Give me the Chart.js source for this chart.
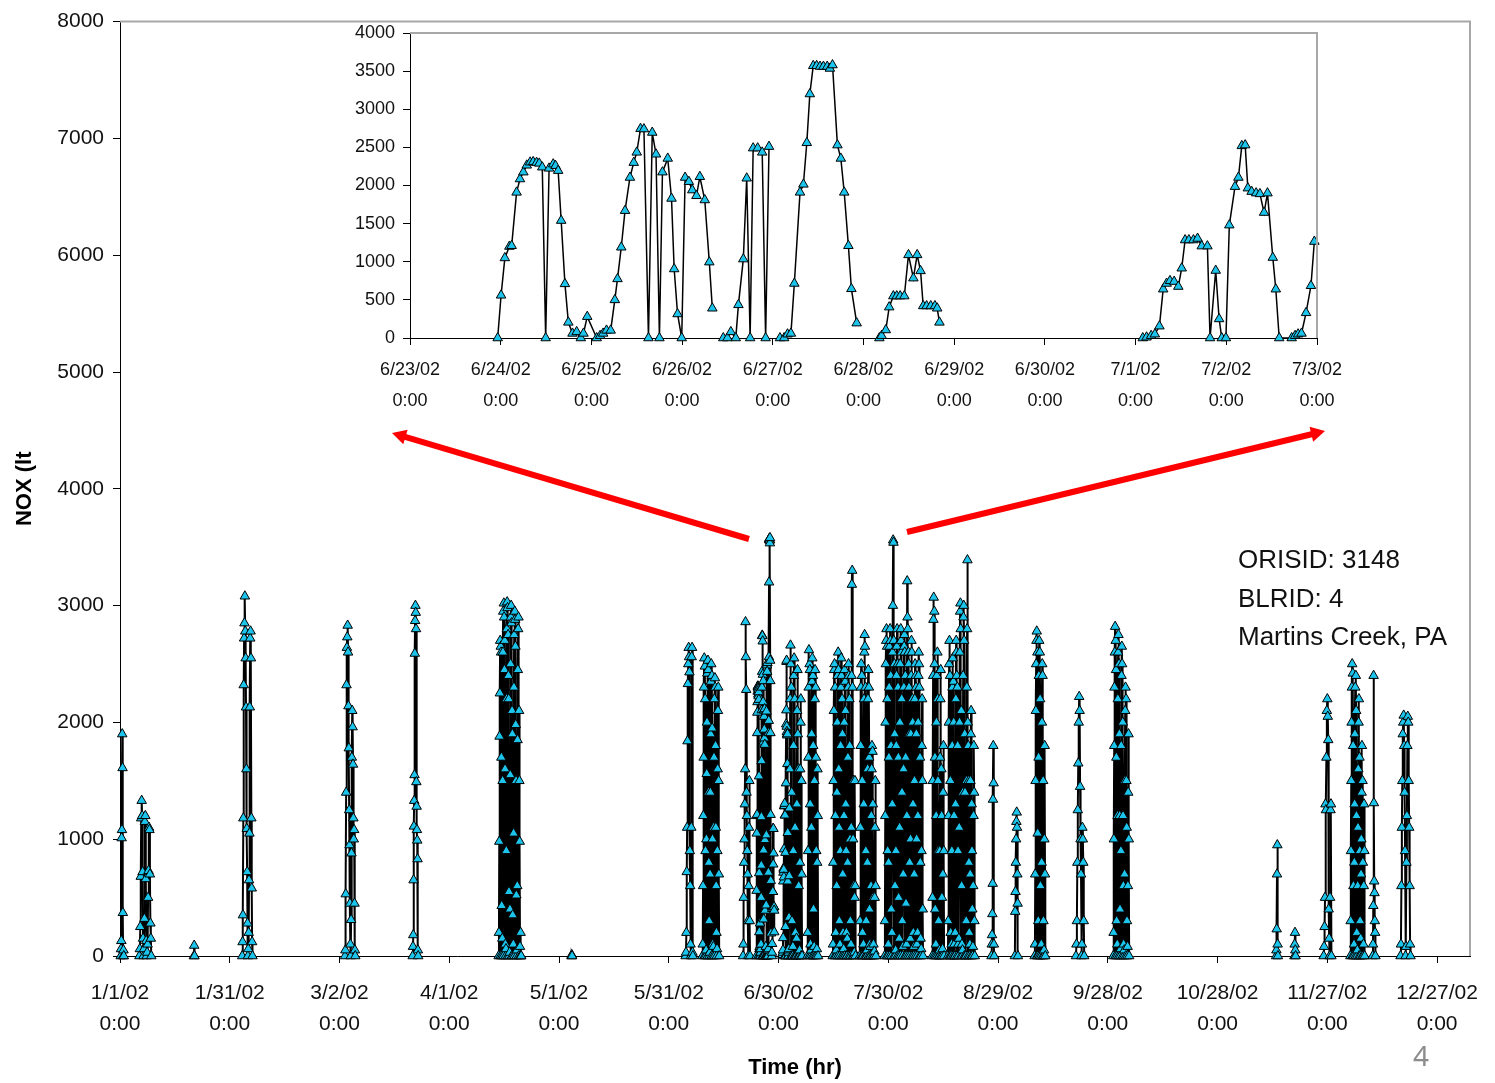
<!DOCTYPE html>
<html>
<head>
<meta charset="utf-8">
<script src="https://cdn.jsdelivr.net/npm/chart.js@4.4.1/dist/chart.umd.min.js"></script>
<style>
  html, body { margin: 0; padding: 0; background: #fff; }
  #wrap { position: relative; width: 1495px; height: 1083px; overflow: hidden; }
  #mainChart { position: absolute; left: 0; top: 0; }
  #insetChart { position: absolute; left: 340px; top: 10px; }
</style>
</head>
<body>
<div id="wrap">
  <canvas id="mainChart" width="1495" height="1083"></canvas>
  <canvas id="insetChart" width="1040" height="410"></canvas>
</div>
<script>
// x axis of the main chart: days since 1/1/02, one tick every 30 days
const mainTickDays = [0, 30, 60, 90, 120, 150, 180, 210, 240, 270, 300, 330, 360];
const mainTickDates = ["1/1/02", "1/31/02", "3/2/02", "4/1/02", "5/1/02", "5/31/02", "6/30/02",
  "7/30/02", "8/29/02", "9/28/02", "10/28/02", "11/27/02", "12/27/02"];

// inset: hours since 6/23/02 0:00, one tick per day
const insetTickDates = ["6/23/02", "6/24/02", "6/25/02", "6/26/02", "6/27/02", "6/28/02",
  "6/29/02", "6/30/02", "7/1/02", "7/2/02", "7/3/02"];
const insetStartDay = 173; // 6/23/02 on the main axis

const noteLines = ["ORISID: 3148", "BLRID: 4", "Martins Creek, PA"];

// hourly readings 6/23 - 7/3 (null = no reading)
const insetHours = [
  23.2, 24.1, 25.1, 26.3, 26.9, 28.2, 29.1, 30.0, 30.9, 31.8, 32.6, 33.5, 34.2, 35.0, 35.9, 36.8, 37.9, 38.5, 39.2, 40.0,
  41.0, 41.9, 43.0, 44.1, 45.2, 45.9, 46.9,
  49.4, 50.3, 51.1, 52.0, 53.1, 54.2, 54.9, 55.9, 56.9, 58.2, 59.2, 60.0, 61.0, 61.9, 63.1, 64.1, 65.1, 66.0, 66.8, 68.2,
  69.2, 69.9, 70.8, 71.9, 72.8, 73.8, 74.7, 75.8, 76.7, 78.0, 79.2, 80.0,
  81.5,
  82.9, 84.0, 84.9, 86.2, 86.9, 88.2, 89.1, 90.0, 90.8, 92.0, 93.2, 94.1, 95.0,
  96.5,
  97.9, 99.0, 99.9, 100.8, 101.7, 103.2, 104.1, 105.0, 105.8, 106.7, 107.6, 108.5, 109.4, 110.4, 111.1, 111.8, 113.1,
  114.0, 114.9, 116.0, 116.8, 118.2,
  121.0,
  124.2, 124.8, 125.9, 126.8, 127.9, 128.8, 129.7, 130.8, 131.9, 133.2, 134.2, 135.1, 135.8, 136.7, 137.8, 138.9, 139.5, 140.1,
  167.0,
  193.9, 194.9, 196.1, 197.1, 198.3, 199.3, 200.2, 201.1, 202.2, 203.3, 204.2, 205.1, 206.1, 207.3, 208.4, 209.5, 211.0,
  211.7, 213.2, 214.1, 214.8, 215.9, 216.8, 218.3, 219.2, 220.1, 221.0, 221.7, 222.7, 223.9, 224.9, 226.0, 226.9, 228.3,
  229.1, 230.0, 233.3, 234.2, 235.0, 235.9, 237.1, 238.4, 239.3
];
const insetNox = [
  0, 560, 1050, 1200, 1210, 1910, 2085, 2175, 2265, 2305, 2310, 2300, 2290, 2240, 0, 2225, 2280, 2260, 2195, 1540,
  710, 205, 60, 80, 0, 60, 280,
  0, 30, 60, 100, 100, 500, 775, 1190, 1670, 2105, 2300, 2435, 2745, 2740, 0, 2695, 2410, 0, 2175, 2355,
  1830, 905, 315, 0, 2105, 2050, 1940, 1865, 2115, 1810, 995, 390,
  null,
  0, 0, 80, 0, 435, 1035, 2095, 0, 2490, 2490, 2435, 0, 2510,
  null,
  0, 0, 50, 60, 715, 1910, 2015, 2560, 3200, 3570, 3570, 3560, 3560, 3560, 3535, 3580, 2530,
  2355, 1910, 1210, 645, 195,
  null,
  0, 30, 105, 405, 550, 550, 550, 550, 1090, 785, 1090, 880, 420, 420, 420, 420, 390, 205,
  null,
  0, 10, 30, 50, 155, 640, 715, 750, 740, 675, 915, 1285, 1285, 1285, 1305, 1205, 1205,
  0, 885, 250, 0, 0, 1480, 1985, 2105, 2520, 2530, 1965, 1920, 1900, 1890, 1645, 1900, 1055,
  640, 0, 0, 30, 50, 60, 330, 685, 1265
];

// rest of the year: operating runs (start day, sampling step in hours, NOx readings)
const runStartDay = [0.2, 5.3, 20.2, 33.4, 61.5, 80.0, 103.5, 123.4, 154.6, 159.2, 170.3, 183.1, 187.9, 194.8, 202.2,
  209.0, 222.0, 226.3, 238.2, 244.6, 250.0, 261.3, 271.5, 316.0, 321.0, 329.0, 336.3, 342.4, 350.0];
const runStepHours = [2, 3, 2, 2.5, 2.5, 2, 2, 2, 2.5, 2, 2.3, 2, 2, 2, 2,
  2, 2, 2, 2, 2, 2, 3, 2, 2, 2, 3, 2, 2, 3];
const runNox = [
  [0, 60, 130, 1010, 1080, 1900, 1610, 370, 0, 50, 0],
  [0, 60, 250, 680, 1180, 1330, 1200, 720, 150, 0, 60, 320, 1150, 1200, 660, 130, 0, 30, 100, 500, 730, 1100, 1080, 700, 280, 150, 0],
  [0, 90, 0],
  [0, 120, 350, 1180, 2320, 2720, 2850, 3080, 2780, 2550, 2130, 1600, 1090, 720, 280, 0, 60, 200, 650, 1050, 2130, 2720, 2780, 2550, 1180, 580, 120, 0],
  [0, 50, 530, 1400, 2320, 2640, 2730, 2830, 2600, 2140, 1780, 1250, 950, 450, 100, 0, 310, 880, 1700, 2100, 1960, 1640, 1180, 1000, 1080, 450, 50, 0],
  [0, 80, 180, 650, 1110, 1330, 1550, 2590, 2870, 3000, 2940, 2800, 1490, 1280, 1080, 990, 830, 50, 0],
  [0, 200, 980, 1880, 2250, 2700, 0, 2650, 2600, 1700, 430, 0,
   150, 1500, 2600, 2950, 0, 3020, 2900, 2450, 2700, 1600, 100, 0,
   60, 900, 2200, 2800, 3030, 2980, 0, 2750, 2400, 2200, 550, 0,
   30, 400, 1550, 2500, 2900, 3000, 2850, 0, 2100, 1900, 350, 0,
   100, 1050, 2300, 2750, 0, 2950, 2880, 2650, 1980, 1500, 520, 0,
   50, 600, 1850, 2450, 2800, 2900, 0, 2100, 1500, 980, 80, 0,
   200, 0, 0],
  [0, 10, 0],
  [0, 30, 200, 720, 1100, 1840, 2330, 2500, 2640, 2560, 2430, 900, 600, 100, 0, 1100, 2560, 2640, 30, 0],
  [0, 100, 600, 1200, 1700, 2300, 2550, 0, 2480, 2200, 900, 0,
   50, 1000, 1560, 2000, 2420, 0, 2530, 2450, 1400, 800, 300, 0,
   30, 700, 1400, 1900, 2350, 2500, 0, 2400, 1950, 1000, 100, 0,
   80, 1100, 1700, 2200, 0, 2380, 2300, 1800, 1100, 600, 200, 0,
   60, 900, 1600, 2100, 2300, 1500, 700, 0],
  [0, 100, 500, 800, 1000, 1300, 1600, 2860, 2560, 2280, 1400, 1200, 900, 700, 300, 0, 600, 1100, 1500, 300, 0],
  [1600, 2200, 2660, 2500, 0, 2300, 1400, 300, 0, 0,
   80, 900, 1800, 2400, 2550, 0, 2200, 1100, 200, 0, 0, 0,
   150, 1300, 2100, 2450, 1900, 0, 1600, 600, 0, 0,
   50, 800, 1600, 2000, 2200, 0, 1500, 700, 0],
  [0, 200, 900, 1700, 2300, 2620, 0, 2500, 2450, 1300, 100, 0,
   50, 1100, 1900, 2350, 2550, 0, 2400, 1800, 400, 0,
   80, 1500, 2200, 2450, 0, 2300, 1700, 900, 0,
   60, 800, 1600, 1200, 0],
  [0, 100, 800, 1500, 2100, 2450, 2500, 0, 2300, 1200, 200, 0,
   50, 600, 1400, 2000, 2400, 0, 2600, 2450, 1600, 1100, 300, 0,
   100, 900, 1800, 2300, 2550, 2400, 0, 2200, 1900, 700, 200, 0,
   60, 1200, 2000, 2450, 0, 2350, 2100, 1300, 900, 200, 0, 0,
   150, 800, 1700, 2300, 2500, 2400, 0, 2200, 1800, 1000, 300, 0,
   100, 1100, 2400, 3180, 3300, 2300, 0, 1000, 1500, 600, 0,
   30, 500, 1500, 600, 0],
  [0, 300, 1100, 1800, 2300, 2500, 0, 2400, 1500, 200, 0, 0,
   100, 1300, 2200, 2600, 2750, 2650, 0, 2300, 900, 300, 0, 0,
   50, 800, 1600, 2200, 2450, 0, 2300, 1700, 400, 100, 0, 0,
   80, 600, 1200, 1600, 1800, 0, 1750, 1300, 500, 100, 0, 0,
   40, 500, 1100, 1500, 600, 0],
  [0, 300, 1200, 2000, 2500, 2700, 2800, 0, 2650, 2200, 900, 0,
   100, 800, 1700, 2300, 2650, 0, 2800, 2700, 2400, 1800, 400, 0,
   200, 1300, 2600, 3000, 3560, 3540, 2700, 0, 2500, 1900, 600, 0,
   50, 900, 1800, 2400, 2650, 2800, 0, 2500, 2300, 1700, 500, 0,
   150, 1100, 2000, 2500, 0, 2800, 2700, 2600, 2200, 1400, 300, 0,
   80, 700, 1600, 2300, 2650, 2750, 2600, 0, 2400, 1700, 450, 0,
   100, 1200, 3210, 2900, 2800, 0, 2600, 2500, 2300, 1900, 800, 0,
   150, 1000, 1900, 2400, 2700, 2600, 0, 2200, 2000, 1300, 200, 0,
   80, 700, 1500, 2200, 2500, 0, 2400, 2300, 1900, 1000, 100, 0,
   200, 1200, 2000, 2400, 2600, 2500, 2300, 0, 1700, 800, 150, 0,
   60, 900, 1800, 2200, 1500, 400, 0],
  [0, 500, 1500, 2400, 2880, 3070, 0, 2950, 2500, 1700, 400, 0,
   100, 1200, 2000, 2400, 0, 2600, 2200, 1500, 900, 300, 0, 0,
   50, 900, 1700, 2200, 2450, 0, 1600, 1200, 500, 0,
   60, 700, 1400, 1800, 900, 0],
  [0, 300, 1200, 2000, 2500, 2700, 0, 2400, 1500, 200, 0, 0,
   100, 900, 1800, 2300, 2550, 0, 2350, 2000, 1200, 100, 0, 0,
   200, 1300, 2200, 2700, 2600, 2400, 0, 2300, 1800, 900, 100, 0,
   150, 1100, 2000, 2600, 2950, 3020, 2800, 0, 2100, 600, 100, 0,
   50, 1400, 2400, 2900, 3000, 2700, 0, 1900, 1400, 300, 0, 0,
   300, 1500, 2300, 2800, 3390, 2000, 0, 1800, 1500, 800, 200, 0,
   100, 700, 1500, 1900, 2100, 0, 1300, 900, 400, 0,
   80, 600, 1200, 1800, 1400, 300, 0],
  [0, 100, 180, 360, 620, 1340, 1800, 1480, 100, 0],
  [0, 380, 550, 800, 1000, 1150, 1230, 1100, 700, 450, 0],
  [0, 100, 700, 1500, 2100, 2500, 2700, 2780, 0, 2600, 1050, 0,
   300, 1700, 2400, 2700, 0, 2600, 2200, 600, 100, 0,
   100, 800, 2000, 2500, 2400, 0, 1500, 300, 0,
   50, 1000, 1800, 700, 0],
  [0, 100, 300, 800, 1250, 1650, 2000, 2220, 2100, 1450, 1000, 700, 0, 100, 1100, 1000, 800, 300, 0],
  [0, 200, 1000, 1800, 2300, 2600, 2820, 0, 2700, 2450, 1700, 300, 0,
   100, 1200, 2200, 2600, 2750, 0, 2500, 1900, 1200, 400, 0,
   60, 900, 1800, 2400, 2650, 2500, 0, 2000, 1200, 600, 100, 0,
   50, 700, 1500, 2100, 2300, 0, 2200, 1500, 1100, 300, 0,
   80, 600, 1400, 1900, 1000, 0],
  [0, 50, 230, 700, 950, 100, 0],
  [0, 100, 200, 50, 0],
  [0, 80, 250, 500, 1300, 1250, 1700, 2100, 2200, 2050, 1850, 400, 150, 0, 500, 1250, 1300, 0],
  [0, 300, 900, 1500, 2000, 2300, 2500, 0, 2420, 1800, 600, 0,
   100, 800, 1300, 1900, 2300, 0, 2400, 2100, 1200, 200, 0,
   50, 600, 1100, 1600, 2000, 2200, 0, 1700, 900, 300, 0,
   150, 700, 1000, 1400, 1800, 0, 1500, 800, 0,
   100, 600, 1300, 900, 0],
  [0, 100, 430, 2400, 1310, 640, 540, 300, 200, 0],
  [0, 100, 600, 1100, 1500, 1900, 2000, 2060, 1800, 1400, 900, 0,
   80, 800, 1200, 1800, 2050, 2000, 1500, 1100, 600, 100, 0]
];

// ---- build point lists ----
const insetPoints = insetHours.map((h, i) => ({ x: h, y: insetNox[i] }));

const segments = runStartDay.map((start, r) => ({
  start: start,
  pts: runNox[r].map((v, i) => ({ x: start + i * runStepHours[r] / 24, y: v }))
}));
segments.push({
  start: insetStartDay,
  pts: insetHours.map((h, i) => ({ x: insetStartDay + h / 24, y: insetNox[i] }))
});
segments.sort((a, b) => a.start - b.start);

const mainPoints = [];
segments.forEach(seg => {
  seg.pts.forEach(p => mainPoints.push(p));
  const last = seg.pts[seg.pts.length - 1];
  mainPoints.push({ x: last.x + 0.05, y: null }); // break the line between runs
});

function markerStyle(lineWidth, radius) {
  return {
    showLine: true,
    borderColor: "#000",
    borderWidth: lineWidth,
    tension: 0,
    pointStyle: "triangle",
    pointRadius: radius,
    pointHoverRadius: radius,
    pointBackgroundColor: "#1cc3ea",
    pointBorderColor: "#000",
    pointBorderWidth: 1,
    spanGaps: false,
    clip: false
  };
}

const fontFamily = "'Liberation Sans', Arial, sans-serif";
const plainNumber = (v) => String(v);

// gray frame on top and right of a plot area
const framePlugin = {
  id: "frame",
  afterDraw(chart) {
    const { ctx, chartArea: a } = chart;
    ctx.save();
    ctx.strokeStyle = "#a8a8a8";
    ctx.lineWidth = 2;
    ctx.beginPath();
    ctx.moveTo(a.left, a.top);
    ctx.lineTo(a.right, a.top);
    ctx.lineTo(a.right, a.bottom);
    ctx.stroke();
    ctx.restore();
  }
};

function drawArrow(ctx, x1, y1, x2, y2) {
  const ang = Math.atan2(y2 - y1, x2 - x1);
  const head = 16;
  ctx.beginPath();
  ctx.moveTo(x1, y1);
  ctx.lineTo(x2 - Math.cos(ang) * head * 0.8, y2 - Math.sin(ang) * head * 0.8);
  ctx.stroke();
  ctx.beginPath();
  ctx.moveTo(x2, y2);
  ctx.lineTo(x2 - head * Math.cos(ang - 0.5), y2 - head * Math.sin(ang - 0.5));
  ctx.lineTo(x2 - head * Math.cos(ang + 0.5), y2 - head * Math.sin(ang + 0.5));
  ctx.closePath();
  ctx.fill();
}

// arrows, station note and slide number
const notesPlugin = {
  id: "notes",
  afterDraw(chart) {
    const ctx = chart.ctx;
    ctx.save();
    ctx.strokeStyle = "#ff0000";
    ctx.fillStyle = "#ff0000";
    ctx.lineWidth = 6;
    drawArrow(ctx, 749, 539, 392, 433);
    drawArrow(ctx, 907, 532, 1325, 431);

    ctx.fillStyle = "#111";
    ctx.font = "26px " + fontFamily;
    ctx.textAlign = "left";
    ctx.textBaseline = "middle";
    noteLines.forEach((t, i) => ctx.fillText(t, 1238, 561 + i * 38.5));

    ctx.fillStyle = "#8c8c8c";
    ctx.font = "28px 'Noto Sans', sans-serif";
    ctx.textAlign = "center";
    ctx.fillText("4", 1421, 1058);
    ctx.restore();
  }
};

new Chart(document.getElementById("mainChart"), {
  type: "scatter",
  data: { datasets: [Object.assign({ data: mainPoints }, markerStyle(2, 5.5))] },
  options: {
    responsive: false,
    animation: false,
    events: [],
    layout: { padding: { top: 18, right: 25, left: 0, bottom: 0 } },
    plugins: { legend: { display: false }, tooltip: { enabled: false } },
    scales: {
      x: {
        type: "linear",
        min: 0,
        max: 369,
        afterBuildTicks: (scale) => { scale.ticks = mainTickDays.map(v => ({ value: v })); },
        afterFit: (scale) => { scale.height = 127; },
        ticks: {
          autoSkip: false,
          maxRotation: 0,
          padding: 15,
          color: "#111",
          font: { family: fontFamily, size: 21, lineHeight: 1.48 },
          callback: (v) => {
            const i = mainTickDays.indexOf(v);
            return i >= 0 ? [mainTickDates[i], "0:00"] : "";
          }
        },
        grid: { drawOnChartArea: false, drawTicks: true, tickLength: 7, color: "#000" },
        border: { display: true, color: "#000", width: 1 },
        title: {
          display: true,
          text: "Time (hr)",
          color: "#000",
          font: { family: fontFamily, size: 22, weight: "bold" },
          padding: { top: 0, bottom: 2 }
        }
      },
      y: {
        min: 0,
        max: 8000,
        afterFit: (scale) => { scale.width = 120; },
        ticks: { stepSize: 1000, padding: 9, color: "#111", font: { family: fontFamily, size: 21 }, callback: plainNumber },
        grid: { drawOnChartArea: false, drawTicks: true, tickLength: 7, color: "#000" },
        border: { display: true, color: "#000", width: 1 },
        title: {
          display: true,
          text: "NOX (lt",
          color: "#000",
          font: { family: fontFamily, size: 22, weight: "bold" },
          padding: { top: 12, bottom: 0 }
        }
      }
    }
  },
  plugins: [framePlugin, notesPlugin]
});

new Chart(document.getElementById("insetChart"), {
  type: "scatter",
  data: { datasets: [Object.assign({ data: insetPoints }, markerStyle(1.5, 5.5))] },
  options: {
    responsive: false,
    animation: false,
    events: [],
    layout: { padding: { top: 23, right: 63, left: 0, bottom: 0 } },
    plugins: { legend: { display: false }, tooltip: { enabled: false } },
    scales: {
      x: {
        type: "linear",
        min: 0,
        max: 240,
        afterBuildTicks: (scale) => { scale.ticks = insetTickDates.map((d, i) => ({ value: i * 24 })); },
        afterFit: (scale) => { scale.height = 82; },
        ticks: {
          autoSkip: false,
          maxRotation: 0,
          padding: 10,
          color: "#111",
          font: { family: fontFamily, size: 18, lineHeight: 1.7 },
          callback: (v) => {
            const i = Math.round(v / 24);
            return [insetTickDates[i], "0:00"];
          }
        },
        grid: { drawOnChartArea: false, drawTicks: true, tickLength: 7, color: "#000" },
        border: { display: true, color: "#000", width: 1 }
      },
      y: {
        min: 0,
        max: 4000,
        afterFit: (scale) => { scale.width = 70; },
        ticks: { stepSize: 500, padding: 8, color: "#111", font: { family: fontFamily, size: 18 }, callback: plainNumber },
        grid: { drawOnChartArea: false, drawTicks: true, tickLength: 7, color: "#000" },
        border: { display: true, color: "#000", width: 1 }
      }
    }
  },
  plugins: [framePlugin]
});
</script>
</body>
</html>
